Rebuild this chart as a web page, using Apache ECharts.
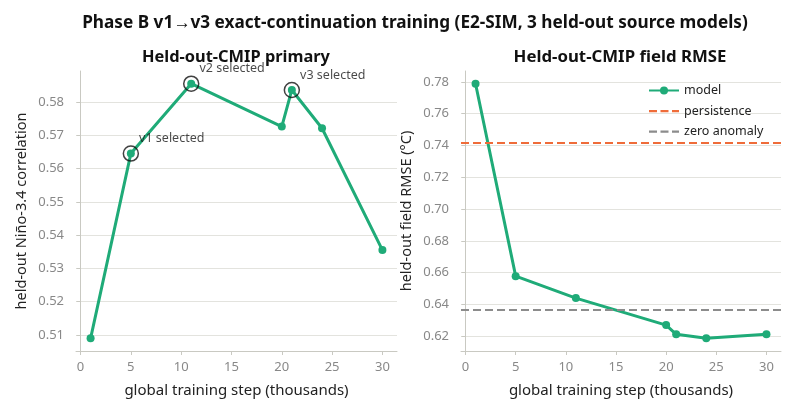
<!DOCTYPE html>
<html>
<head>
<meta charset="utf-8">
<script src="https://cdn.jsdelivr.net/npm/echarts@6/dist/echarts.min.js"></script>
<style>
  html, body { margin: 0; padding: 0; background: #fff; }
  #chart { width: 793px; height: 413px; }
</style>
</head>
<body>
<div id="chart"></div>
<script>
// training steps (thousands)
const steps = [1, 5, 11, 20, 21, 24, 30]
// held-out Nino-3.4 correlation
const corr = [0.509, 0.5645, 0.5855, 0.5726, 0.5836, 0.5721, 0.5355]
// held-out field RMSE
const rmse = [0.7789, 0.6578, 0.644, 0.627, 0.6212, 0.6187, 0.6213]
const persistenceRmse = 0.7417
const zeroAnomalyRmse = 0.6366
// selected checkpoints
const selectedSteps = [5, 11, 21]
const selectedNames = ['v1 selected', 'v2 selected', 'v3 selected']
// ticks
const xTicks = [0, 5, 10, 15, 20, 25, 30]
const corrTicks = [0.51, 0.52, 0.53, 0.54, 0.55, 0.56, 0.57, 0.58]
const rmseTicks = [0.62, 0.64, 0.66, 0.68, 0.70, 0.72, 0.74, 0.76, 0.78]

const GREEN = '#1fab78'
const ORANGE = '#ef6c3a'
const GRAY = '#8c8c8c'
const FONT = 'Noto Sans'
// dashed legend icon, tiny corner specks keep the box at 30x10
const DASH_ICON = 'path://M0,0h0.01v0.01h-0.01zM29.99,9.99h0.01v0.01h-0.01zM0,4h8v2.2h-8zM11.5,4h8v2.2h-8zM23,4h7v2.2h-7z'

const chart = echarts.init(document.getElementById('chart'), null, { renderer: 'canvas' })

const xAxisBase = gridIndex => ({
  type: 'value',
  gridIndex,
  min: -0.45,
  max: 31.45,
  name: 'global training step (thousands)',
  nameLocation: 'middle',
  nameGap: 32,
  nameTextStyle: { color: '#222', fontSize: 15, fontFamily: FONT },
  axisLine: { show: true, lineStyle: { color: '#c9c9c2', width: 1 } },
  axisTick: { show: true, length: 4, customValues: xTicks, lineStyle: { color: '#c9c9c2' } },
  axisLabel: { customValues: xTicks, color: '#888', fontSize: 13, fontFamily: FONT, margin: 10 },
  splitLine: { show: false }
})

const yAxisBase = (gridIndex, min, max, ticks, name) => ({
  type: 'value',
  gridIndex,
  min,
  max,
  name,
  nameLocation: 'middle',
  nameGap: 47,
  nameTextStyle: { color: '#222', fontSize: 14.5, fontFamily: FONT },
  axisLine: { show: true, lineStyle: { color: '#c9c9c2', width: 1 } },
  axisTick: { show: true, length: 4, customValues: ticks, lineStyle: { color: '#c9c9c2' } },
  axisLabel: {
    customValues: ticks,
    color: '#888',
    fontSize: 13,
    fontFamily: FONT,
    margin: 12,
    formatter: v => v.toFixed(2)
  },
  splitLine: { show: true, lineStyle: { color: '#e3e3de', width: 1 } }
})

const corrPairs = steps.map((s, i) => [s, corr[i]])
const rmsePairs = steps.map((s, i) => [s, rmse[i]])
const selectedPairs = selectedSteps.map((s, i) => ({
  value: [s, corr[steps.indexOf(s)]],
  name: selectedNames[i]
}))

const option = {
  backgroundColor: '#fff',
  animation: false,
  title: [
    {
      text: 'Phase B v1\u2192v3 exact-continuation training (E2-SIM, 3 held-out source models)',
      left: 410,
      top: 10,
      textAlign: 'center',
      textStyle: { fontSize: 17.2, fontWeight: 'bold', color: '#111', fontFamily: FONT }
    },
    {
      text: 'Held-out-CMIP primary',
      left: 231,
      top: 44,
      textAlign: 'center',
      textStyle: { fontSize: 16.4, fontWeight: 'bold', color: '#111', fontFamily: FONT }
    },
    {
      text: 'Held-out-CMIP field RMSE',
      left: 615,
      top: 44,
      textAlign: 'center',
      textStyle: { fontSize: 16.8, fontWeight: 'bold', color: '#111', fontFamily: FONT }
    }
  ],
  legend: {
    data: [
      { name: 'model' },
      { name: 'persistence', icon: DASH_ICON, itemStyle: { color: ORANGE } },
      { name: 'zero anomaly', icon: DASH_ICON, itemStyle: { color: GRAY } }
    ],
    orient: 'vertical',
    left: 643,
    top: 79,
    itemWidth: 30,
    itemHeight: 10,
    itemGap: 7.5,
    textStyle: { color: '#222', fontSize: 12.5, fontFamily: FONT }
  },
  grid: [
    { left: 76, right: 396, top: 71, bottom: 62 },
    { left: 461, right: 12, top: 71, bottom: 62 }
  ],
  xAxis: [xAxisBase(0), xAxisBase(1)],
  yAxis: [
    yAxisBase(0, 0.5052, 0.5893, corrTicks, 'held-out Ni\u00f1o-3.4 correlation'),
    yAxisBase(1, 0.6107, 0.7869, rmseTicks, 'held-out field RMSE (\u00b0C)')
  ],
  series: [
    {
      name: 'correlation',
      type: 'line',
      xAxisIndex: 0,
      yAxisIndex: 0,
      data: corrPairs,
      symbol: 'circle',
      symbolSize: 8,
      lineStyle: { color: GREEN, width: 3 },
      itemStyle: { color: GREEN }
    },
    {
      name: 'selected',
      type: 'scatter',
      xAxisIndex: 0,
      yAxisIndex: 0,
      data: selectedPairs,
      symbol: 'circle',
      symbolSize: 15,
      z: 5,
      itemStyle: { color: 'rgba(0,0,0,0)', borderColor: '#111', borderWidth: 1.5 },
      label: {
        show: true,
        position: 'right',
        distance: 0,
        offset: [0, -15],
        formatter: p => p.name,
        color: '#1a1a1a',
        fontSize: 12.5,
        fontFamily: FONT
      }
    },
    {
      name: 'model',
      type: 'line',
      xAxisIndex: 1,
      yAxisIndex: 1,
      data: rmsePairs,
      symbol: 'circle',
      symbolSize: 8,
      z: 4,
      lineStyle: { color: GREEN, width: 3 },
      itemStyle: { color: GREEN }
    },
    {
      name: 'persistence',
      type: 'line',
      xAxisIndex: 1,
      yAxisIndex: 1,
      data: [],
      symbol: 'none',
      lineStyle: { color: ORANGE, width: 2, type: [8, 4] },
      itemStyle: { color: ORANGE },
      markLine: {
        silent: true,
        symbol: 'none',
        precision: 4,
        label: { show: false },
        lineStyle: { color: ORANGE, width: 2, type: [8, 4] },
        data: [{ yAxis: persistenceRmse }]
      }
    },
    {
      name: 'zero anomaly',
      type: 'line',
      xAxisIndex: 1,
      yAxisIndex: 1,
      data: [],
      symbol: 'none',
      lineStyle: { color: GRAY, width: 2, type: [8, 4] },
      itemStyle: { color: GRAY },
      markLine: {
        silent: true,
        symbol: 'none',
        precision: 4,
        label: { show: false },
        lineStyle: { color: GRAY, width: 2, type: [8, 4] },
        data: [{ yAxis: zeroAnomalyRmse }]
      }
    }
  ]
}

chart.setOption(option)
</script>
</body>
</html>
